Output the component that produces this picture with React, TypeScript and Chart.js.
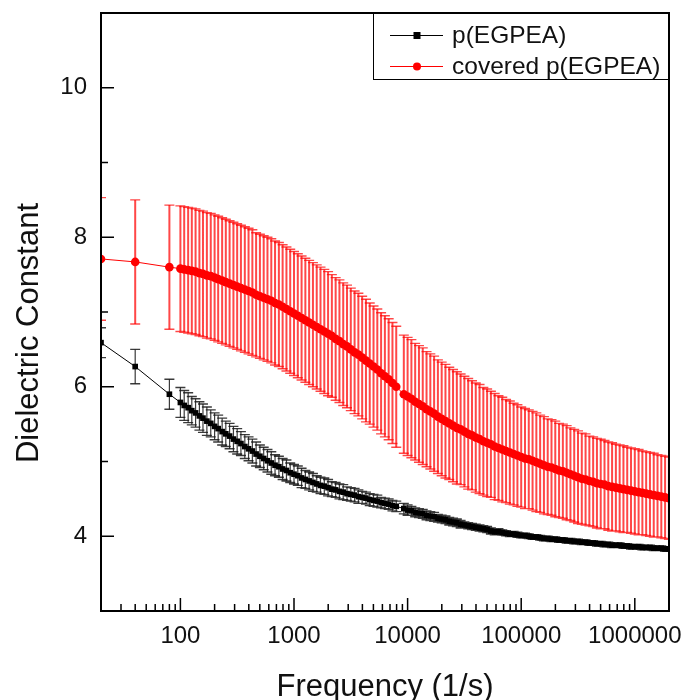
import React, { useEffect, useRef } from "react";
import { Chart, registerables } from "chart.js";

Chart.register(...registerables);

const FONT = "'Liberation Sans', Arial, Helvetica, sans-serif";

// Frequency (1/s)
const FREQ = [
  20, 40, 80,
  100, 108, 117, 126, 136, 147, 158, 171, 185, 200, 215, 233, 251, 271, 293, 316, 341, 369, 398, 430, 464, 501, 541, 584, 631, 681, 736, 794, 858, 926,
  1000, 1080, 1166, 1259, 1359, 1468, 1585, 1711, 1848, 1995, 2154, 2326, 2512, 2712, 2929, 3162, 3415, 3687, 3981, 4299, 4642, 5012, 5412, 5843, 6310, 6813, 7356, 7943, 9261,
  10000, 10801, 11659, 12589, 13594, 14678, 15849, 17113, 18478, 19953, 21544, 23263, 25119, 27123, 29286, 31623, 34145, 36869, 39811, 42987, 46416, 50119, 54117, 58434, 63096, 68129, 73564, 79433, 85770, 92611,
  100000, 108010, 116590, 125890, 135940, 146780, 158490, 171130, 184780, 199530, 215440, 232630, 251190, 271230, 292860, 316230, 341450, 368690, 398110, 429870, 464160, 501190, 541170, 584340, 630960, 681290, 735640, 794330, 857700, 926110,
  1000000, 1080100, 1165900, 1258900, 1359400, 1467800, 1584900, 1711300, 1847800, 1995300,
];

// p(EGPEA)
const BLACK_MEAN = [
  6.59, 6.27, 5.90,
  5.79, 5.75, 5.72, 5.68, 5.65, 5.61, 5.58, 5.54, 5.51, 5.47, 5.44, 5.40, 5.37, 5.34, 5.30, 5.27, 5.24, 5.20, 5.17, 5.14, 5.10, 5.07, 5.04, 5.01, 4.98, 4.95, 4.93, 4.90, 4.88, 4.85,
  4.83, 4.81, 4.78, 4.76, 4.74, 4.72, 4.70, 4.68, 4.67, 4.65, 4.63, 4.62, 4.60, 4.59, 4.57, 4.56, 4.55, 4.53, 4.52, 4.51, 4.49, 4.48, 4.47, 4.45, 4.44, 4.43, 4.41, 4.40, 4.37,
  4.35, 4.34, 4.32, 4.31, 4.30, 4.28, 4.27, 4.26, 4.24, 4.23, 4.22, 4.20, 4.19, 4.18, 4.16, 4.15, 4.14, 4.13, 4.12, 4.11, 4.10, 4.09, 4.07, 4.06, 4.06, 4.05, 4.04, 4.03, 4.03, 4.02,
  4.01, 4.01, 4.00, 3.99, 3.99, 3.98, 3.97, 3.97, 3.96, 3.96, 3.95, 3.95, 3.94, 3.94, 3.93, 3.93, 3.92, 3.92, 3.91, 3.91, 3.90, 3.90, 3.89, 3.89, 3.88, 3.88, 3.88, 3.87, 3.87, 3.86,
  3.86, 3.86, 3.85, 3.85, 3.85, 3.84, 3.84, 3.84, 3.83, 3.83,
];
const BLACK_ERR = [
  0.20, 0.23, 0.20,
  0.20, 0.20, 0.20, 0.19, 0.19, 0.19, 0.19, 0.19, 0.18, 0.18, 0.18, 0.18, 0.17, 0.17, 0.17, 0.17, 0.16, 0.16, 0.16, 0.16, 0.16, 0.15, 0.15, 0.15, 0.15, 0.14, 0.14, 0.14, 0.14, 0.13,
  0.13, 0.13, 0.13, 0.12, 0.12, 0.12, 0.11, 0.11, 0.11, 0.11, 0.10, 0.10, 0.10, 0.10, 0.09, 0.09, 0.09, 0.09, 0.08, 0.08, 0.08, 0.08, 0.08, 0.07, 0.07, 0.07, 0.07, 0.07, 0.07,
  0.07, 0.06, 0.06, 0.06, 0.06, 0.06, 0.06, 0.06, 0.05, 0.05, 0.05, 0.05, 0.05, 0.05, 0.05, 0.04, 0.04, 0.04, 0.04, 0.04, 0.04, 0.04, 0.04, 0.04, 0.04, 0.035, 0.035, 0.035, 0.035, 0.035,
  0.03, 0.03, 0.03, 0.03, 0.03, 0.03, 0.03, 0.03, 0.03, 0.03, 0.03, 0.03, 0.03, 0.03, 0.03, 0.03, 0.03, 0.03, 0.03, 0.03, 0.03, 0.03, 0.03, 0.03, 0.03, 0.03, 0.03, 0.03, 0.03, 0.03,
  0.03, 0.03, 0.03, 0.03, 0.03, 0.03, 0.03, 0.03, 0.03, 0.03,
];

// covered p(EGPEA)
const RED_MEAN = [
  7.71, 7.67, 7.60,
  7.58, 7.57, 7.56, 7.55, 7.54, 7.52, 7.51, 7.49, 7.48, 7.46, 7.44, 7.42, 7.40, 7.38, 7.36, 7.34, 7.32, 7.30, 7.28, 7.26, 7.23, 7.21, 7.19, 7.17, 7.15, 7.12, 7.10, 7.07, 7.04, 7.01,
  6.98, 6.95, 6.92, 6.89, 6.86, 6.83, 6.80, 6.77, 6.74, 6.71, 6.68, 6.64, 6.61, 6.57, 6.54, 6.50, 6.46, 6.43, 6.39, 6.35, 6.31, 6.27, 6.23, 6.18, 6.14, 6.10, 6.05, 6.00, 5.90,
  5.87, 5.84, 5.80, 5.77, 5.74, 5.70, 5.67, 5.64, 5.60, 5.57, 5.54, 5.51, 5.48, 5.45, 5.43, 5.40, 5.37, 5.35, 5.32, 5.30, 5.27, 5.25, 5.23, 5.20, 5.18, 5.16, 5.14, 5.12, 5.10, 5.08,
  5.06, 5.04, 5.03, 5.01, 4.99, 4.97, 4.95, 4.93, 4.92, 4.90, 4.88, 4.87, 4.85, 4.83, 4.81, 4.79, 4.77, 4.76, 4.74, 4.73, 4.71, 4.70, 4.69, 4.67, 4.66, 4.65, 4.64, 4.63, 4.62, 4.61,
  4.60, 4.59, 4.58, 4.57, 4.56, 4.55, 4.54, 4.53, 4.52, 4.51,
];
const RED_ERR = [
  0.82, 0.83, 0.83,
  0.84, 0.84, 0.84, 0.84, 0.84, 0.84, 0.84, 0.84, 0.84, 0.84, 0.84, 0.84, 0.84, 0.84, 0.84, 0.84, 0.84, 0.84, 0.84, 0.84, 0.83, 0.83, 0.83, 0.83, 0.83, 0.83, 0.83, 0.83, 0.83, 0.83,
  0.83, 0.83, 0.83, 0.83, 0.83, 0.83, 0.83, 0.83, 0.83, 0.83, 0.82, 0.82, 0.82, 0.82, 0.82, 0.82, 0.82, 0.82, 0.82, 0.82, 0.81, 0.81, 0.81, 0.81, 0.81, 0.81, 0.81, 0.81, 0.79,
  0.79, 0.79, 0.78, 0.78, 0.78, 0.77, 0.77, 0.77, 0.76, 0.76, 0.76, 0.75, 0.75, 0.75, 0.74, 0.74, 0.74, 0.73, 0.73, 0.73, 0.72, 0.72, 0.71, 0.71, 0.70, 0.70, 0.69, 0.69, 0.68, 0.68,
  0.67, 0.67, 0.66, 0.66, 0.66, 0.65, 0.65, 0.64, 0.64, 0.64, 0.63, 0.63, 0.63, 0.62, 0.62, 0.62, 0.61, 0.61, 0.60, 0.60, 0.60, 0.60, 0.59, 0.59, 0.59, 0.58, 0.58, 0.58, 0.57, 0.57,
  0.57, 0.57, 0.56, 0.56, 0.56, 0.56, 0.55, 0.55, 0.55, 0.55,
];

const X_TICKS = [100, 1000, 10000, 100000, 1000000];
const Y_TICKS = [4, 6, 8, 10];
const Y_MINOR = [3, 5, 7, 9, 11];
const SERIES_LABELS = ["p(EGPEA)", "covered p(EGPEA)"];
const X_TITLE = "Frequency (1/s)";
const Y_TITLE = "Dielectric Constant";

export default function App() {
  const ref = useRef<HTMLCanvasElement>(null);

  useEffect(() => {
    const canvas = ref.current;
    if (!canvas) return;

    const series = [
      { mean: BLACK_MEAN, err: BLACK_ERR, color: "rgba(25,25,25,0.85)", width: 1.2, cap: 5 },
      { mean: RED_MEAN, err: RED_ERR, color: "rgba(255,0,0,0.72)", width: 2, cap: 5 },
    ];

    const errorBars = {
      id: "errorBars",
      beforeDatasetsDraw(chart: any) {
        const { ctx, chartArea, scales } = chart;
        const xs = scales.x;
        const ys = scales.y;
        ctx.save();
        ctx.beginPath();
        ctx.rect(chartArea.left, chartArea.top, chartArea.right - chartArea.left, chartArea.bottom - chartArea.top);
        ctx.clip();
        for (let s = series.length - 1; s >= 0; s--) {
          const { mean, err, color, width, cap } = series[s];
          ctx.strokeStyle = color;
          ctx.lineWidth = width;
          ctx.beginPath();
          for (let i = 0; i < FREQ.length; i++) {
            const x = xs.getPixelForValue(FREQ[i]);
            const yt = ys.getPixelForValue(mean[i] + err[i]);
            const yb = ys.getPixelForValue(mean[i] - err[i]);
            ctx.moveTo(x, yt);
            ctx.lineTo(x, yb);
          }
          ctx.stroke();
          ctx.lineWidth = 1.4;
          ctx.beginPath();
          for (let i = 0; i < FREQ.length; i++) {
            const x = xs.getPixelForValue(FREQ[i]);
            const yt = ys.getPixelForValue(mean[i] + err[i]);
            const yb = ys.getPixelForValue(mean[i] - err[i]);
            ctx.moveTo(x - cap, yt);
            ctx.lineTo(x + cap, yt);
            ctx.moveTo(x - cap, yb);
            ctx.lineTo(x + cap, yb);
          }
          ctx.stroke();
        }
        ctx.restore();
      },
    };

    const frame = {
      id: "frame",
      afterDraw(chart: any) {
        const { ctx, chartArea, scales } = chart;
        const { left, right, top, bottom } = chartArea;
        const xs = scales.x;
        const ys = scales.y;
        ctx.save();
        ctx.strokeStyle = "#000";
        ctx.lineWidth = 1.5;
        ctx.beginPath();
        X_TICKS.forEach((v) => {
          const x = xs.getPixelForValue(v);
          ctx.moveTo(x, bottom);
          ctx.lineTo(x, bottom - 13);
        });
        for (let d = 10; d <= 1000000; d *= 10) {
          for (let m = 2; m <= 9; m++) {
            const v = m * d;
            if (v <= xs.min || v >= xs.max) continue;
            const x = xs.getPixelForValue(v);
            ctx.moveTo(x, bottom);
            ctx.lineTo(x, bottom - 7);
          }
        }
        Y_TICKS.forEach((v) => {
          const y = ys.getPixelForValue(v);
          ctx.moveTo(left, y);
          ctx.lineTo(left + 13, y);
        });
        Y_MINOR.forEach((v) => {
          const y = ys.getPixelForValue(v);
          ctx.moveTo(left, y);
          ctx.lineTo(left + 7, y);
        });
        ctx.stroke();

        // legend
        const lx0 = 373;
        const lyb = 79;
        ctx.fillStyle = "#fff";
        ctx.fillRect(lx0, top, right - lx0, lyb - top);
        ctx.lineWidth = 1;
        ctx.strokeStyle = "#000";
        ctx.strokeRect(lx0 + 0.5, top + 0.5, right - lx0, lyb - top);
        const rows = [
          { y: 35, color: "#000", style: "rect" },
          { y: 66, color: "#ff0000", style: "circle" },
        ];
        rows.forEach((r, i) => {
          ctx.strokeStyle = r.color;
          ctx.lineWidth = 1;
          ctx.beginPath();
          ctx.moveTo(390, r.y + 0.5);
          ctx.lineTo(443, r.y + 0.5);
          ctx.stroke();
          ctx.fillStyle = r.color;
          if (r.style === "rect") {
            ctx.fillRect(417 - 3.5, r.y + 0.5 - 3.5, 7, 7);
          } else {
            ctx.beginPath();
            ctx.arc(417, r.y + 0.5, 4, 0, Math.PI * 2);
            ctx.fill();
          }
          ctx.fillStyle = "#111";
          ctx.font = `24.5px ${FONT}`;
          ctx.textAlign = "left";
          ctx.textBaseline = "middle";
          ctx.fillText(SERIES_LABELS[i], 452, r.y + 1);
        });

        // frame
        ctx.strokeStyle = "#000";
        ctx.lineWidth = 2;
        ctx.strokeRect(left, top, right - left, bottom - top);

        // axis titles
        ctx.fillStyle = "#111";
        ctx.font = `31px ${FONT}`;
        ctx.textAlign = "center";
        ctx.textBaseline = "alphabetic";
        ctx.fillText(X_TITLE, (left + right) / 2, 696);
        ctx.save();
        ctx.translate(38, 333);
        ctx.rotate(-Math.PI / 2);
        ctx.fillText(Y_TITLE, 0, 0);
        ctx.restore();
        ctx.restore();
      },
    };

    const chart = new Chart(canvas, {
      type: "line",
      data: {
        datasets: [
          {
            label: SERIES_LABELS[0],
            data: FREQ.map((f, i) => ({ x: f, y: BLACK_MEAN[i] })),
            borderColor: "#000",
            backgroundColor: "#000",
            borderWidth: 1,
            pointStyle: "rect",
            pointRadius: 4,
            pointBorderWidth: 0,
            pointBackgroundColor: "#000",
            tension: 0,
          },
          {
            label: SERIES_LABELS[1],
            data: FREQ.map((f, i) => ({ x: f, y: RED_MEAN[i] })),
            borderColor: "#ff0000",
            backgroundColor: "#ff0000",
            borderWidth: 1,
            pointStyle: "circle",
            pointRadius: 4.3,
            pointBorderWidth: 0,
            pointBackgroundColor: "#ff0000",
            tension: 0,
          },
        ],
      },
      options: {
        animation: false,
        responsive: true,
        maintainAspectRatio: false,
        layout: { padding: { left: 0, top: 13, right: 18, bottom: 0 } },
        plugins: {
          legend: { display: false },
          tooltip: { enabled: false },
          title: { display: false },
        },
        scales: {
          x: {
            type: "logarithmic",
            min: 20,
            max: 2000000,
            grid: { display: false, drawTicks: false },
            border: { display: false },
            afterBuildTicks: (s: any) => {
              s.ticks = X_TICKS.map((v) => ({ value: v }));
            },
            afterFit: (s: any) => {
              s.height = 89;
              s.paddingLeft = 0;
              s.paddingRight = 0;
            },
            ticks: {
              autoSkip: false,
              maxRotation: 0,
              minRotation: 0,
              padding: 11,
              color: "#111",
              font: { family: FONT, size: 24 },
              callback: (v: any) => String(v),
            },
          },
          y: {
            type: "linear",
            min: 3,
            max: 11,
            grid: { display: false, drawTicks: false },
            border: { display: false },
            afterBuildTicks: (s: any) => {
              s.ticks = Y_TICKS.map((v) => ({ value: v }));
            },
            afterFit: (s: any) => {
              s.width = 101;
              s.paddingTop = 0;
              s.paddingBottom = 0;
            },
            ticks: {
              padding: 14,
              color: "#111",
              font: { family: FONT, size: 24 },
              callback: (v: any) => String(v),
            },
          },
        },
      },
      plugins: [errorBars, frame],
    });

    return () => chart.destroy();
  }, []);

  return (
    <div style={{ position: "absolute", left: 0, top: 0, width: 687, height: 700, background: "#fff" }}>
      <canvas ref={ref} />
    </div>
  );
}
